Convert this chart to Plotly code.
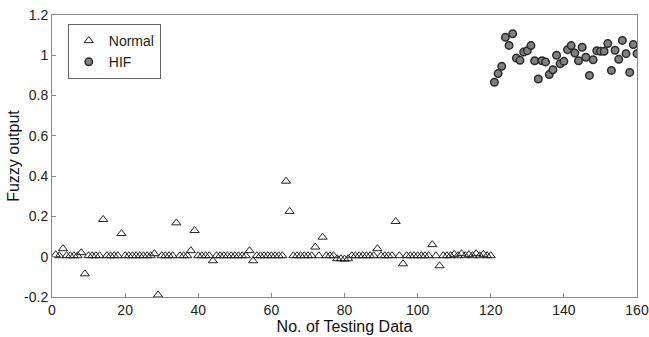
import plotly.graph_objects as go

normal_x = list(range(1, 121))
normal_base = 0.005
normal_overrides = {
    1: 0.01, 3: 0.04, 8: 0.02, 9: -0.085, 14: 0.185, 19: 0.115, 28: 0.015,
    29: -0.19, 34: 0.168, 38: 0.03, 39: 0.13, 44: -0.02, 54: 0.03, 55: -0.02,
    64: 0.375, 65: 0.225, 72: 0.048, 74: 0.097, 78: -0.01, 79: -0.01,
    80: -0.012, 81: -0.01, 89: 0.04, 94: 0.175, 96: -0.035, 104: 0.06,
    106: -0.045, 110: 0.012, 112: 0.015, 114: 0.01, 116: 0.015, 118: 0.012,
}
normal_y = [normal_overrides.get(x, normal_base) for x in normal_x]

hif_x = list(range(121, 161))
hif_y = [0.866, 0.909, 0.945, 1.089, 1.049, 1.107, 0.986, 0.975, 1.016, 1.023,
         1.048, 0.973, 0.882, 0.973, 0.967, 0.904, 0.928, 1.0, 0.958, 0.97,
         1.028, 1.048, 1.011, 0.973, 1.04, 0.99, 0.9, 0.978, 1.023, 1.02,
         1.02, 1.058, 0.925, 1.025, 0.98, 1.074, 1.008, 0.915, 1.053, 1.008]

y_ticks = [-0.2, 0, 0.2, 0.4, 0.6, 0.8, 1, 1.2]
y_labels = ["-0.2", "0", "0.2", "0.4", "0.6", "0.8", "1", "1.2"]
x_ticks = [0, 20, 40, 60, 80, 100, 120, 140, 160]

FONT = "Liberation Sans, Arial"

fig = go.Figure()
fig.add_trace(go.Scatter(
    x=normal_x, y=normal_y, mode="markers", name="Normal",
    marker=dict(symbol="triangle-up-open", size=8, color="#222",
                line=dict(width=1, color="#222")),
))
fig.add_trace(go.Scatter(
    x=hif_x, y=hif_y, mode="markers", name="HIF",
    marker=dict(symbol="circle", size=7.5, color="#808080",
                line=dict(width=1.5, color="#2a2a2a")),
))

axis_common = dict(showgrid=False, zeroline=False, showline=True, mirror=True,
                   linecolor="#888", linewidth=1, ticks="inside", ticklen=4,
                   tickcolor="#888", automargin=False, ticklabeloverflow="allow",
                   tickfont=dict(family=FONT, size=14, color="#222"))

fig.update_layout(
    width=649, height=337,
    margin=dict(l=52, r=12, t=15, b=40),
    paper_bgcolor="white", plot_bgcolor="white",
    showlegend=True,
    legend=dict(x=0.027, y=0.968, xanchor="left", yanchor="top",
                bordercolor="#666", borderwidth=1, bgcolor="white",
                font=dict(family=FONT, size=14, color="#222"),
                itemwidth=30, tracegroupgap=0),
    xaxis=dict(range=[0, 160], tickvals=x_ticks,
               title=dict(text="No. of Testing Data", standoff=0,
                          font=dict(family=FONT, size=16, color="#111")),
               **axis_common),
    yaxis=dict(range=[-0.2, 1.2], tickvals=y_ticks, ticktext=y_labels,
               title=dict(text="Fuzzy output", standoff=0,
                          font=dict(family=FONT, size=16, color="#111")),
               **axis_common),
)

fig.write_html("out.html")
